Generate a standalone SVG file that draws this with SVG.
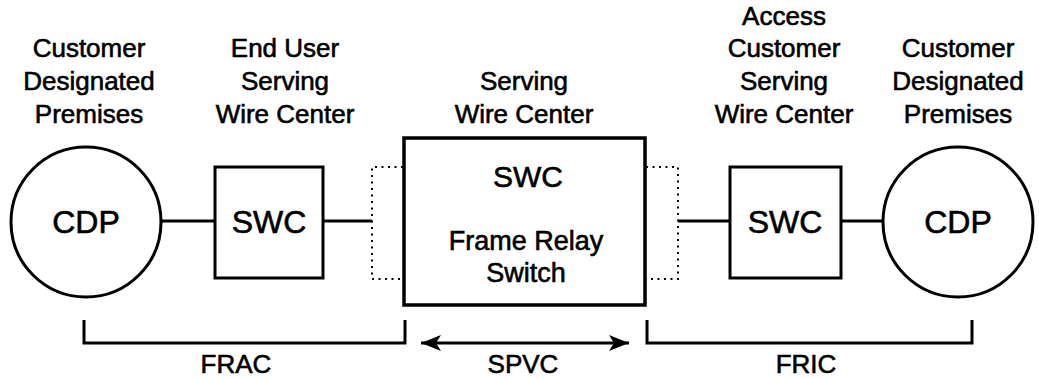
<svg xmlns="http://www.w3.org/2000/svg" width="1039" height="379" viewBox="0 0 1039 379">
<style>
  .shape { fill: none; stroke: #000; stroke-width: 3; }
  .thick { fill: none; stroke: #000; stroke-width: 3.5; }
  .dot { fill: none; stroke: #000; stroke-width: 2; stroke-dasharray: 2 4.5; }
  .line { fill: none; stroke: #000; stroke-width: 3; }
  text { font-family: "Liberation Sans", Arial, sans-serif; fill: #000; stroke: #000; stroke-width: 0.6; text-anchor: middle; }
  .lbl { font-size: 26px; }
  .mid { font-size: 27px; }
  .big { font-size: 32px; }
  .sw { font-size: 30px; }
  .bot { font-size: 26px; }
</style>
<defs>
  <marker id="ah" markerWidth="22" markerHeight="20" refX="20" refY="10" orient="auto-start-reverse" markerUnits="userSpaceOnUse">
    <path d="M0,2 L20,10 L0,18 L5,10 Z" fill="#000"/>
  </marker>
</defs>
<rect width="1039" height="379" fill="#fff"/>

<g id="label-cdp-left">
  <text class="lbl" x="89" y="57">Customer</text>
  <text class="lbl" x="89" y="90">Designated</text>
  <text class="lbl" x="89" y="123">Premises</text>
</g>
<g id="label-swc-left">
  <text class="lbl" x="285" y="57">End User</text>
  <text class="lbl" x="285" y="90">Serving</text>
  <text class="lbl" x="285" y="123">Wire Center</text>
</g>
<g id="label-swc-center">
  <text class="lbl" x="524" y="90">Serving</text>
  <text class="lbl" x="524" y="123">Wire Center</text>
</g>
<g id="label-swc-right">
  <text class="lbl" x="784" y="25">Access</text>
  <text class="lbl" x="784" y="57">Customer</text>
  <text class="lbl" x="784" y="90">Serving</text>
  <text class="lbl" x="784" y="123">Wire Center</text>
</g>
<g id="label-cdp-right">
  <text class="lbl" x="958" y="57">Customer</text>
  <text class="lbl" x="958" y="90">Designated</text>
  <text class="lbl" x="958" y="123">Premises</text>
</g>

<g id="connectors">
  <line class="line" x1="161" y1="221" x2="215" y2="221"/>
  <line class="line" x1="323" y1="221" x2="372" y2="221"/>
  <line class="line" x1="678" y1="221" x2="730" y2="221"/>
  <line class="line" x1="841" y1="221" x2="884" y2="221"/>
  <path class="dot" d="M403,167 H372 V279 H403"/>
  <path class="dot" d="M646,167 H678 V279 H646"/>
  <path class="line" d="M84,320 V343 H405 V320"/>
  <path class="line" d="M647,320 V343 H972 V320"/>
  <line class="line" x1="421" y1="343" x2="629" y2="343" marker-start="url(#ah)" marker-end="url(#ah)"/>
</g>

<g id="node-cdp-left">
  <circle class="shape" cx="86" cy="222" r="75"/>
  <text class="big" x="86" y="233">CDP</text>
</g>
<g id="node-swc-left">
  <rect class="shape" x="215" y="167" width="108" height="111"/>
  <text class="big" x="269" y="233">SWC</text>
</g>
<g id="node-swc-center">
  <rect class="thick" x="404" y="138" width="241" height="167"/>
  <text class="sw" x="528" y="187">SWC</text>
  <text class="mid" x="526" y="250">Frame Relay</text>
  <text class="mid" x="526" y="282">Switch</text>
</g>
<g id="node-swc-right">
  <rect class="shape" x="730" y="167" width="111" height="111"/>
  <text class="big" x="785" y="233">SWC</text>
</g>
<g id="node-cdp-right">
  <circle class="shape" cx="958" cy="222" r="75"/>
  <text class="big" x="958" y="233">CDP</text>
</g>

<g id="bottom-labels">
  <text class="bot" x="236" y="373">FRAC</text>
  <text class="bot" x="523" y="373">SPVC</text>
  <text class="bot" x="806" y="373">FRIC</text>
</g>
</svg>
